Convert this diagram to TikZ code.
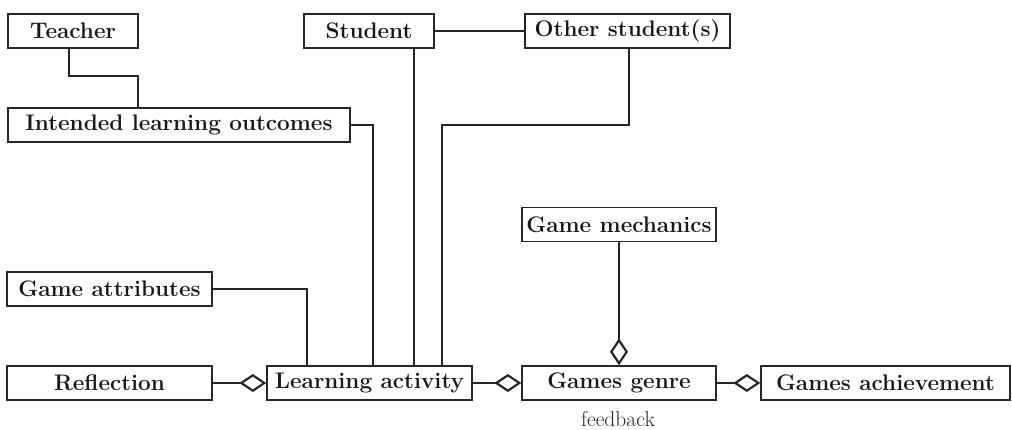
\documentclass[tikz,border=0pt]{standalone}
\usetikzlibrary{arrows.meta}
\begin{document}
\begin{tikzpicture}[x=1pt,y=-1pt,
  box/.style={draw=black!85,line width=1.3pt,minimum height=34pt,inner sep=0pt,
    font=\fontsize{22.5}{26}\selectfont\bfseries,text=black!90},
  conn/.style={draw=black!85,line width=2.2pt},
  agg/.style={conn,-{Diamond[open,length=27pt,width=18pt,line width=2.2pt]}}]
\useasboundingbox (0,0) rectangle (1012,430);
\node[box,minimum width=130pt] (teacher) at (73,31) {Teacher};
\node[box,minimum width=342pt] (ilo) at (179,125) {Intended learning outcomes};
\node[box,minimum width=130pt] (student) at (369,31) {Student};
\node[box,minimum width=205pt] (other) at (627.5,31) {Other student(s)};
\node[box,minimum width=194pt] (gmech) at (619,224.5) {Game mechanics};
\node[box,minimum width=205pt] (gattr) at (109.5,289) {Game attributes};
\node[box,minimum width=205pt] (refl) at (109.5,383) {Reflection};
\node[box,minimum width=205pt] (la) at (369.5,383) {Learning activity};
\node[box,minimum width=194pt] (gg) at (619,383) {Games genre};
\node[box,minimum width=249pt] (ga) at (885.5,383) {Games achievement};
\node[font=\fontsize{21.5}{24}\selectfont,text=black!85] (fb) at (618,419) {feedback};
% connectors
\draw[conn] ([xshift=-4pt]teacher.south) -- ++(0,27) -| ([xshift=-41pt]ilo.north);
\draw[conn] (ilo.east) -| ([xshift=3.5pt]la.north);
\draw[conn] ([xshift=45pt]student.south) -- ([xshift=44.5pt]la.north);
\draw[conn] (student.east) -- (other.west);
\draw[conn] ([xshift=1.5pt]other.south) -- ++(0,76) -| ([xshift=72.5pt]la.north);
\draw[conn] (gattr.east) -| ([xshift=-62.5pt]la.north);
\draw[agg] (refl.east) -- (la.west);
\draw[agg] (la.east) -- (gg.west);
\draw[agg] (gg.east) -- (ga.west);
\draw[agg] (gmech.south) -- (gg.north);
\end{tikzpicture}
\end{document}
